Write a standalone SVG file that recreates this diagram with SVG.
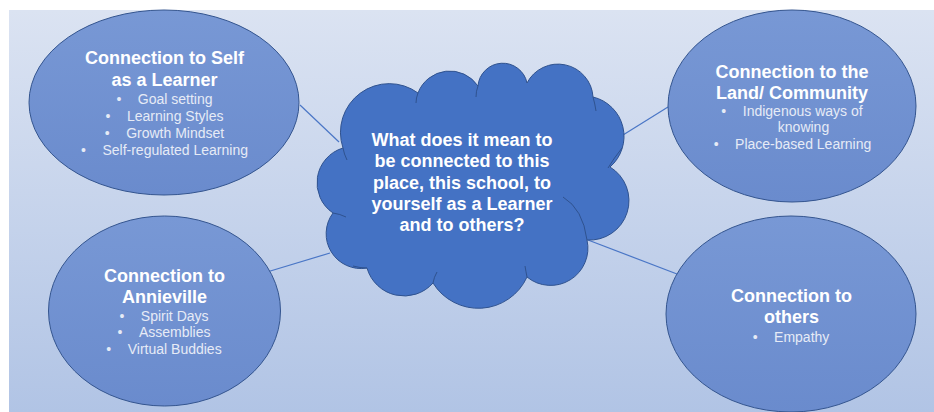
<svg xmlns="http://www.w3.org/2000/svg" width="934" height="412" viewBox="0 0 934 412">
<defs>
<linearGradient id="bg" x1="0" y1="0" x2="0" y2="1">
<stop offset="0" stop-color="#dbe3f2"/>
<stop offset="1" stop-color="#b1c4e5"/>
</linearGradient>
<linearGradient id="ell" x1="0" y1="0" x2="0" y2="1">
<stop offset="0" stop-color="#7898d5"/>
<stop offset="1" stop-color="#6a8bcd"/>
</linearGradient>
<style>
.ell{fill:url(#ell);stroke:#34558f;stroke-width:1}
.cloud{fill:#4472c4;stroke:#2f528f;stroke-width:1}
.inner{fill:none;stroke:#2f528f;stroke-width:1}
.conn{stroke:#4a76c6;stroke-width:1.2;fill:none}
.t{font-family:"Liberation Sans",Arial,sans-serif;font-weight:bold;font-size:18px;fill:#ffffff;text-anchor:middle}
.b{font-family:"Liberation Sans",Arial,sans-serif;font-size:14px;fill:#e6ebf6;text-anchor:middle}
</style>
</defs>
<rect x="0" y="0" width="934" height="412" fill="#ffffff"/>
<rect x="9" y="10" width="925" height="402" fill="url(#bg)"/>
<g id="connectors">
<line class="conn" x1="300" y1="105" x2="339" y2="142"/>
<line class="conn" x1="623" y1="135" x2="668" y2="107"/>
<line class="conn" x1="267" y1="272" x2="330" y2="253"/>
<line class="conn" x1="588" y1="240" x2="677" y2="274"/>
</g>
<g id="node-self">
<ellipse class="ell" cx="164" cy="102.5" rx="135" ry="92.5"/>
<text class="t" x="164.5" y="64">Connection to Self</text>
<text class="t" x="164.5" y="86">as a Learner</text>
<text class="b" x="164.5" y="103.5">•<tspan dx="16.5">Goal setting</tspan></text>
<text class="b" x="164.5" y="120.5">•<tspan dx="16.5">Learning Styles</tspan></text>
<text class="b" x="164.5" y="137.5">•<tspan dx="16.5">Growth Mindset</tspan></text>
<text class="b" x="164.5" y="154.5">•<tspan dx="16.5">Self-regulated Learning</tspan></text>
</g>
<g id="node-land">
<ellipse class="ell" cx="792" cy="106" rx="124" ry="96"/>
<text class="t" x="792" y="77.5">Connection to the</text>
<text class="t" x="792" y="99">Land/ Community</text>
<text class="b" x="792" y="115.5">•<tspan dx="16.5">Indigenous ways of</tspan></text>
<text class="b" x="803.5" y="132">knowing</text>
<text class="b" x="792.5" y="148.5">•<tspan dx="16.5">Place-based Learning</tspan></text>
</g>
<g id="node-annieville">
<ellipse class="ell" cx="164.5" cy="311" rx="116" ry="95"/>
<text class="t" x="164.5" y="281.5">Connection to</text>
<text class="t" x="164.5" y="302.5">Annieville</text>
<text class="b" x="164" y="320.5">•<tspan dx="16.5">Spirit Days</tspan></text>
<text class="b" x="164" y="337">•<tspan dx="16.5">Assemblies</tspan></text>
<text class="b" x="164" y="354">•<tspan dx="16.5">Virtual Buddies</tspan></text>
</g>
<g id="node-others">
<ellipse class="ell" cx="791" cy="314" rx="125" ry="98"/>
<text class="t" x="791.5" y="302">Connection to</text>
<text class="t" x="791.5" y="322.5">others</text>
<text class="b" x="791" y="341.5">•<tspan dx="16.5">Empathy</tspan></text>
</g>
<g id="node-question">
<path class="cloud" d="M343,148 A48.8,48.8 0 0 1 418,93 A34,34 0 0 1 478,86 A24.8,24.8 0 0 1 527,83 A35,35 0 0 1 593,97 A40.5,40.5 0 0 1 610,167 A39.4,39.4 0 0 1 587,240 A37.3,37.3 0 0 1 527,277 A53.4,53.4 0 0 1 433,283 A38.6,38.6 0 0 1 367,268 A34.8,34.8 0 0 1 333,213 A36.4,36.4 0 0 1 343,148 Z"/>
<path class="inner" d="M343,148 q1,6 4,12 M418,93 q-2,5 -2,10 M478,86 q-2,5 -2,11 M593,97 q2,7 3,14 M608,168 q6,-10 14,-20 M563,197 Q583,209 587,240 M527,277 q-1,-5 -2,-11 M433,283 q1,-6 4,-11 M367,268 q-7,0 -14,-2 M333,213 q7,1 13,4"/>
<text class="t" x="462" y="146">What does it mean to</text>
<text class="t" x="462" y="167.3">be connected to this</text>
<text class="t" x="462" y="188.6">place, this school, to</text>
<text class="t" x="462" y="210">yourself as a Learner</text>
<text class="t" x="462" y="231.3">and to others?</text>
</g>
</svg>
